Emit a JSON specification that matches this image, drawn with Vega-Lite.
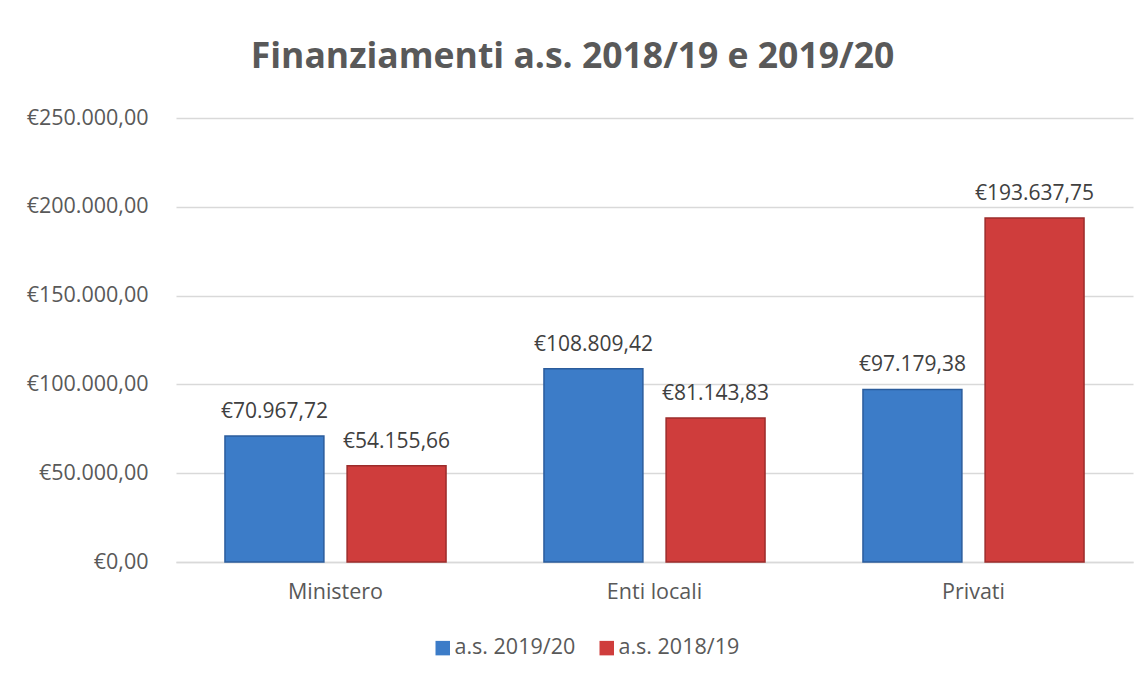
{
  "$schema": "https://vega.github.io/schema/vega-lite/v6.json",
  "width": 957,
  "height": 444,
  "autosize": {"type": "none"},
  "padding": {"left": 176, "top": 118, "right": 14, "bottom": 115},
  "background": "white",
  "config": {
    "locale": {"number": {"decimal": ",", "thousands": ".", "grouping": [3], "currency": ["€", ""]}},
    "view": {"stroke": null},
    "font": "Open Sans"
  },
  "title": {
    "text": "Finanziamenti a.s. 2018/19 e 2019/20",
    "fontSize": 35.5,
    "fontWeight": "bold",
    "color": "#595959",
    "font": "Open Sans",
    "anchor": "middle",
    "dx": -82,
    "offset": 32
  },
  "data": {
    "values": [
      {"fonte": "Ministero", "anno": "a.s. 2019/20", "importo": 70967.72},
      {"fonte": "Ministero", "anno": "a.s. 2018/19", "importo": 54155.66},
      {"fonte": "Enti locali", "anno": "a.s. 2019/20", "importo": 108809.42},
      {"fonte": "Enti locali", "anno": "a.s. 2018/19", "importo": 81143.83},
      {"fonte": "Privati", "anno": "a.s. 2019/20", "importo": 97179.38},
      {"fonte": "Privati", "anno": "a.s. 2018/19", "importo": 193637.75}
    ]
  },
  "encoding": {
    "x": {
      "field": "fonte",
      "type": "nominal",
      "sort": ["Ministero", "Enti locali", "Privati"],
      "scale": {"paddingInner": 0.307, "paddingOuter": 0.1535},
      "axis": {
        "title": null,
        "labelAngle": 0,
        "labelFontSize": 21.5,
        "labelColor": "#595959",
        "labelPadding": 19,
        "ticks": false,
        "domainColor": "#D9D9D9",
        "domainWidth": 1.5
      }
    },
    "xOffset": {
      "field": "anno",
      "type": "nominal",
      "sort": ["a.s. 2019/20", "a.s. 2018/19"],
      "scale": {"paddingInner": 0.19}
    },
    "y": {
      "field": "importo",
      "type": "quantitative",
      "scale": {"domain": [0, 250000], "nice": false},
      "axis": {
        "title": null,
        "values": [0, 50000, 100000, 150000, 200000, 250000],
        "format": "$,.2f",
        "labelFontSize": 21.5,
        "labelColor": "#595959",
        "labelPadding": 28,
        "domain": false,
        "ticks": false,
        "gridColor": "#D9D9D9",
        "gridWidth": 1.5
      }
    }
  },
  "layer": [
    {
      "mark": {"type": "bar", "strokeWidth": 1.5},
      "encoding": {
        "color": {
          "field": "anno",
          "type": "nominal",
          "sort": ["a.s. 2019/20", "a.s. 2018/19"],
          "scale": {"domain": ["a.s. 2019/20", "a.s. 2018/19"], "range": ["#3C7CC8", "#CF3D3C"]},
          "legend": {
            "title": null,
            "orient": "none",
            "direction": "horizontal",
            "legendX": 256,
            "legendY": 519,
            "symbolType": "square",
            "symbolSize": 210,
            "symbolStrokeWidth": 0,
            "labelFontSize": 21.5,
            "labelColor": "#595959",
            "columnPadding": 20,
            "labelOffset": 1
          }
        },
        "stroke": {
          "field": "anno",
          "type": "nominal",
          "scale": {"domain": ["a.s. 2019/20", "a.s. 2018/19"], "range": ["#2B5C9C", "#9C2C2B"]},
          "legend": null
        }
      }
    },
    {
      "mark": {"type": "text", "dy": -18, "baseline": "alphabetic", "fontSize": 21, "color": "#404040"},
      "encoding": {
        "text": {"field": "importo", "type": "quantitative", "format": "$,.2f"}
      }
    }
  ]
}
